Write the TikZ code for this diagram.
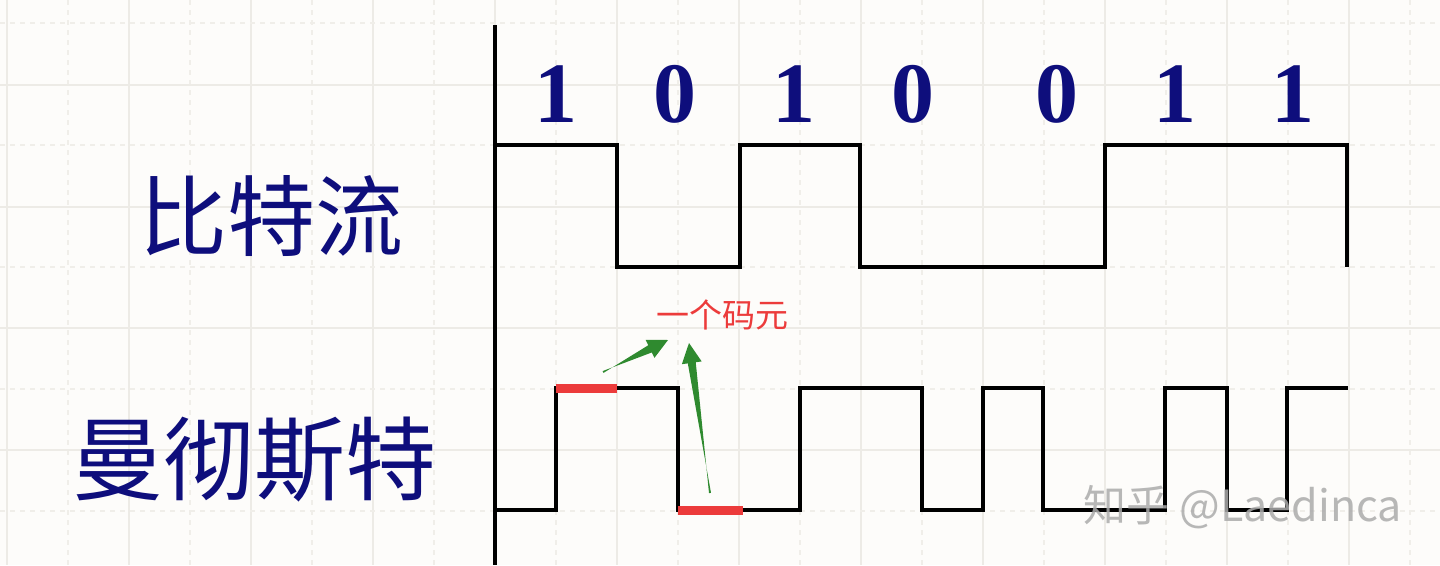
\documentclass[tikz,border=0pt]{standalone}
\usepackage{fontspec}
\setmainfont{Liberation Serif}
\newfontfamily\cjk{Noto Sans CJK SC}
\usetikzlibrary{calc}
\definecolor{bgc}{HTML}{FDFCFA}
\definecolor{gridc}{HTML}{EDEBE6}
\definecolor{gridd}{HTML}{F0EEE9}
\definecolor{navy}{HTML}{0E0E7C}
\definecolor{redc}{HTML}{EC3B3B}
\definecolor{greenc}{HTML}{2F8A2F}
\definecolor{wmc}{HTML}{ABABAB}
\newcommand\taperarrow[2]{%
  \coordinate (hb) at ($(#2)!20pt!(#1)$);
  \fill[greenc] ($(#1)!1pt!90:(#2)$) -- ($(hb)!4pt!-90:(#2)$) -- ($(hb)!10pt!-90:(#2)$) -- (#2)
     -- ($(hb)!10pt!90:(#2)$) -- ($(hb)!4pt!90:(#2)$) -- ($(#1)!1pt!-90:(#2)$) -- cycle;}
\begin{document}
\begin{tikzpicture}[x=1pt,y=-1pt,
  wave/.style={draw=black,line width=4.6pt,line join=miter},
  redbar/.style={draw=redc,line width=9pt},
  gmajor/.style={draw=gridc,line width=1.3pt},
  gminor/.style={draw=gridd,line width=1.1pt,dash pattern=on 5pt off 5pt},
  digit/.style={text=navy,font=\bfseries\fontsize{86}{86}\selectfont,inner sep=0pt},
  label/.style={text=navy,font=\cjk\fontsize{88}{88}\selectfont,inner sep=0pt},
  note/.style={text=redc,font=\cjk\fontsize{33}{33}\selectfont,inner sep=0pt},
  wm/.style={text=wmc,font=\cjk\fontsize{43}{43}\selectfont,inner sep=0pt,opacity=0.85}]
\fill[bgc] (0,0) rectangle (1440,565);
\useasboundingbox (0,0) rectangle (1440,565);
% grid
\foreach \x in {7,129,...,1440} \draw[gmajor] (\x,0) -- (\x,565);
\foreach \x in {68,190,...,1440} \draw[gminor] (\x,0) -- (\x,565);
\foreach \y in {85,207,328,450} \draw[gmajor] (0,\y) -- (1440,\y);
\foreach \y in {23,145,267,389,511} \draw[gminor] (0,\y) -- (1440,\y);
% axis
\draw[wave] (495,25) -- (495,565);
% bit stream
\draw[wave] (495,145) -- (617,145) -- (617,267) -- (740,267) -- (740,145) -- (860,145)
  -- (860,267) -- (1105,267) -- (1105,145) -- (1347,145) -- (1347,267);
% manchester
\draw[wave] (495,510) -- (556,510) -- (556,388) -- (678,388) -- (678,510) -- (800,510)
  -- (800,388) -- (922,388) -- (922,510) -- (983,510) -- (983,388) -- (1043,388)
  -- (1043,510) -- (1165,510) -- (1165,388) -- (1227,388) -- (1227,510) -- (1287,510)
  -- (1287,388) -- (1348,388);
% red bars
\draw[redbar] (556,388) -- (617,388);
\draw[redbar] (678,510) -- (743,510);
% digits
\node[digit] (d1) at (556,94) {1};
\node[digit] (d2) at (675,94) {0};
\node[digit] (d3) at (794,94) {1};
\node[digit] (d4) at (913,94) {0};
\node[digit] (d5) at (1057,94) {0};
\node[digit] (d6) at (1175,94) {1};
\node[digit] (d7) at (1293,94) {1};
% labels
\node[label] (bit) at (271,216) {比特流};
\node[label,font=\cjk\fontsize{91}{91}\selectfont] (man) at (254,460) {曼彻斯特};
\node[note] (sym) at (722,315) {一个码元};
\node[wm] (wmk) at (1243,507) {知乎 @Laedinca};
% arrows
\coordinate (a1t) at (603,372);
\coordinate (a1h) at (668,340);
\coordinate (a2t) at (710,493);
\coordinate (a2h) at (689,343);
\taperarrow{a1t}{a1h}
\taperarrow{a2t}{a2h}
\end{tikzpicture}
\end{document}
